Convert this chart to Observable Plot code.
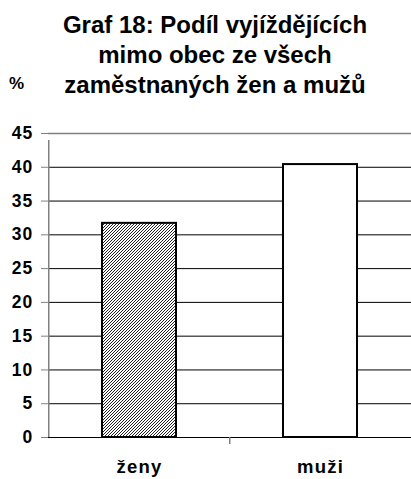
<!DOCTYPE html>
<html>
<head>
<meta charset="utf-8">
<script src="https://cdn.jsdelivr.net/npm/d3@7"></script>
<script src="https://cdn.jsdelivr.net/npm/@observablehq/plot@0.6"></script>
<style>
  html, body { margin: 0; padding: 0; background: #fff; }
  body { width: 411px; height: 479px; position: relative; overflow: hidden; font-family: "Liberation Sans", Arial, sans-serif; }
  #title { position: absolute; left: 0; top: 0; width: 430px; text-align: center; font-weight: bold; font-size: 24px; line-height: 30px; padding-top: 10px; color: #000; }
  #unit { position: absolute; left: 9px; top: 74px; font-weight: bold; font-size: 17px; }
  #chart { position: absolute; left: 0; top: 100px; }
  .yax text { letter-spacing: 1.2px; }
  .xax text { letter-spacing: 1.2px; }
</style>
</head>
<body>
<div id="title">Graf 18: Podíl vyjíždějících<br>mimo obec ze všech<br>zaměstnaných žen a mužů</div>
<div id="unit">%</div>
<div id="chart"></div>
<script>
const categories = ["ženy", "muži"];
const values = [31.7, 40.4];
const fills = ["url(#hatch)", "#ffffff"];
const yTicks = [0, 5, 10, 15, 20, 25, 30, 35, 40, 45];

const data = categories.map((c, i) => ({ cat: c, value: values[i], fill: fills[i] }));

const width = 411, height = 379;
const marginLeft = 48, marginRight = 0, marginTop = 33, marginBottom = 42;
const step = (width - marginLeft - marginRight) / categories.length;

const plot = Plot.plot({
  width, height, marginLeft, marginRight, marginTop, marginBottom,
  style: { fontFamily: "Liberation Sans, Arial, sans-serif", fontWeight: "bold", color: "#000", background: "#fff", overflow: "visible" },
  x: { domain: categories, paddingInner: 0.592, paddingOuter: 0.296, axis: null, label: null },
  y: { domain: [0, 45], axis: null, label: null },
  marks: [
    Plot.ruleY(yTicks.filter(d => d > 0 && d < 45), { stroke: "#000", strokeWidth: 1 }),
    Plot.ruleY([45], { stroke: "#808080", strokeWidth: 1.5 }),
    Plot.barY(data, { x: "cat", y: "value", fill: "fill", stroke: "#000", strokeWidth: 2 }),
    Plot.ruleY([0], { stroke: "#000", strokeWidth: 1 }),
    Plot.axisY({ ticks: yTicks, tickSize: 7, tickPadding: 8, stroke: "#808080", fontSize: 17.5, fontWeight: "bold", fill: "#000", label: null, className: "yax" }),
    Plot.ruleX([categories[0]], { dx: -step / 2, y1: 0, y2: 45, stroke: "#808080", strokeWidth: 1.5, insetBottom: -7 }),
    Plot.axisX({ ticks: categories.slice(1), tickSize: 7, text: null, stroke: "#808080", strokeWidth: 1.5, dx: -step / 2, label: null }),
    Plot.axisX({ ticks: categories, tickSize: 0, tickPadding: 22, fontSize: 18.5, fontWeight: "bold", fill: "#000", label: null, className: "xax" })
  ]
});

const defs = d3.select(plot).insert("defs", ":first-child");
const pat = defs.append("pattern").attr("id", "hatch").attr("patternUnits", "userSpaceOnUse").attr("width", 3).attr("height", 3);
pat.append("rect").attr("width", 3).attr("height", 3).attr("fill", "#fff");
pat.append("path").attr("d", "M-1,1 L1,-1 M0,3 L3,0 M2,4 L4,2").attr("stroke", "#222").attr("stroke-width", 1);

document.getElementById("chart").appendChild(plot);
</script>
</body>
</html>
